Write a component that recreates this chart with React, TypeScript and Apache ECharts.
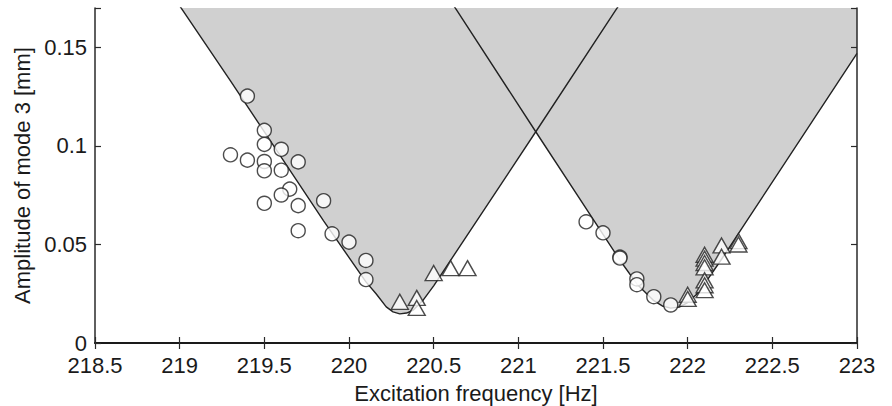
import React, { useEffect, useRef } from "react";
import * as echarts from "echarts";

// Left stability boundary (curve 1): frequency [Hz], amplitude [mm]
const CURVE1_F = [218.93, 219.3, 219.85, 220.1, 220.16, 220.22, 220.26, 220.3, 220.34, 220.38, 220.44, 220.5, 221.103, 221.576, 221.66];
const CURVE1_A = [0.18, 0.133, 0.062, 0.031, 0.025, 0.0183, 0.0158, 0.0148, 0.0152, 0.0167, 0.022, 0.029, 0.1072, 0.169, 0.18];

// Right stability boundary (curve 2)
const CURVE2_F = [220.55, 220.635, 221.103, 221.42, 221.6, 221.7, 221.8, 221.85, 221.9, 221.95, 222.0, 222.05, 222.1, 222.2, 222.35, 223.0];
const CURVE2_A = [0.18, 0.169, 0.1072, 0.0657, 0.042, 0.03, 0.0215, 0.0188, 0.0177, 0.0182, 0.0205, 0.0245, 0.03, 0.0425, 0.0621, 0.147];

// Crossing frequency of the two curves
const CROSS_F = 221.103;

// Measured points: circles
const CIRCLE_F = [219.4, 219.5, 219.5, 219.3, 219.4, 219.6, 219.5, 219.5, 219.6, 219.7, 219.65, 219.6, 219.5, 219.7, 219.85, 219.7, 219.9, 220.0, 220.1, 220.1, 221.4, 221.5, 221.6, 221.6, 221.7, 221.7, 221.8, 221.9];
const CIRCLE_A = [0.1253, 0.1079, 0.1008, 0.0955, 0.0928, 0.0983, 0.0921, 0.0874, 0.0877, 0.0919, 0.0781, 0.0751, 0.0709, 0.0697, 0.0722, 0.057, 0.0554, 0.0512, 0.0419, 0.0322, 0.0615, 0.0559, 0.0436, 0.0431, 0.0325, 0.0296, 0.0235, 0.0193];

// Measured points: triangles
const TRI_F = [220.3, 220.4, 220.4, 220.5, 220.6, 220.7, 222.0, 222.0, 222.1, 222.1, 222.1, 222.1, 222.1, 222.1, 222.1, 222.2, 222.2, 222.3, 222.3];
const TRI_A = [0.0209, 0.0229, 0.0178, 0.0355, 0.038, 0.038, 0.0245, 0.0224, 0.0448, 0.0428, 0.0406, 0.0384, 0.0318, 0.0293, 0.0268, 0.0495, 0.0438, 0.0517, 0.0500];

const X_MIN = 218.5;
const X_MAX = 223;
const X_STEP = 0.5;
const Y_MIN = 0;
const Y_MAX = 0.17;
const Y_STEP = 0.05;

const FONT = "'Liberation Sans', Arial, Helvetica, sans-serif";

export default function App() {
  const ref = useRef<HTMLDivElement>(null);

  useEffect(() => {
    if (!ref.current) return;
    const chart = echarts.init(ref.current, undefined, { renderer: "svg" });

    const c1 = CURVE1_F.map((f, i) => [f, CURVE1_A[i]]);
    const c2 = CURVE2_F.map((f, i) => [f, CURVE2_A[i]]);
    const envelope = [
      ...c1.filter((p) => p[0] <= CROSS_F),
      ...c2.filter((p) => p[0] > CROSS_F),
    ];
    const circles = CIRCLE_F.map((f, i) => [f, CIRCLE_A[i]]);
    const tris = TRI_F.map((f, i) => [f, TRI_A[i]]);

    const onStep = (v: number, step: number) => Math.abs(v / step - Math.round(v / step)) < 1e-6;

    const axisLine = { show: true, lineStyle: { color: "#2a2a2a", width: 1.5 } };
    const tickStyle = { lineStyle: { color: "#2a2a2a", width: 1.2 } };
    const labelStyle = { color: "#1a1a1a", fontSize: 22, fontFamily: FONT };

    chart.setOption({
      animation: false,
      backgroundColor: "#ffffff",
      grid: { left: 95, right: 35, top: 8, bottom: 63, containLabel: false, outerBoundsMode: "none" },
      xAxis: [
        {
          type: "value",
          min: X_MIN,
          max: X_MAX,
          interval: X_STEP,
          position: "bottom",
          z: 10,
          axisLine,
          axisTick: { show: true, inside: true, length: 6, ...tickStyle },
          splitLine: { show: false },
          axisLabel: {
            ...labelStyle,
            lineHeight: 19,
            margin: 13,
            formatter: (v: number) => (onStep(v, X_STEP) ? String(+v.toFixed(2)) : ""),
          },
          name: "Excitation frequency [Hz]",
          nameLocation: "middle",
          nameGap: 39,
          nameTextStyle: { ...labelStyle },
        },
        {
          type: "value",
          min: X_MIN,
          max: X_MAX,
          interval: X_STEP,
          position: "top",
          z: 10,
          axisLine: { show: true, lineStyle: { color: "#1a1a1a", width: 2 } },
          axisTick: { show: true, inside: true, length: 6, ...tickStyle },
          splitLine: { show: false },
          axisLabel: { show: false },
        },
      ],
      yAxis: [
        {
          type: "value",
          min: Y_MIN,
          max: Y_MAX,
          interval: Y_STEP,
          position: "left",
          z: 10,
          axisLine,
          axisTick: { show: true, inside: true, length: 6, ...tickStyle },
          splitLine: { show: false },
          axisLabel: {
            ...labelStyle,
            lineHeight: 19,
            margin: 8,
            formatter: (v: number) => (onStep(v, Y_STEP) ? String(+v.toFixed(2)) : ""),
          },
          name: "Amplitude of mode 3 [mm]",
          nameLocation: "middle",
          nameGap: 60,
          nameRotate: 90,
          nameTextStyle: { ...labelStyle },
        },
        {
          type: "value",
          min: Y_MIN,
          max: Y_MAX,
          interval: Y_STEP,
          position: "right",
          z: 10,
          axisLine,
          axisTick: { show: true, inside: true, length: 6, ...tickStyle },
          splitLine: { show: false },
          axisLabel: { show: false },
        },
      ],
      series: [
        {
          type: "line",
          data: envelope,
          showSymbol: false,
          symbol: "none",
          clip: true,
          lineStyle: { width: 0, opacity: 0 },
          areaStyle: { color: "#d0d0d0", opacity: 1, origin: "end" },
          z: 1,
          silent: true,
        },
        {
          type: "line",
          data: c1,
          symbol: "none",
          clip: true,
          lineStyle: { color: "#222222", width: 1.4 },
          z: 2,
          silent: true,
        },
        {
          type: "line",
          data: c2,
          symbol: "none",
          clip: true,
          lineStyle: { color: "#222222", width: 1.4 },
          z: 2,
          silent: true,
        },
        {
          type: "scatter",
          data: circles,
          symbol: "circle",
          symbolSize: 14,
          itemStyle: { color: "#ffffff", borderColor: "#1f1f1f", borderWidth: 1.4 },
          z: 3,
        },
        {
          type: "scatter",
          data: tris,
          symbol: "triangle",
          symbolSize: [17, 15],
          itemStyle: { color: "#ffffff", borderColor: "#1f1f1f", borderWidth: 1.4 },
          z: 3,
        },
      ],
    });

    return () => chart.dispose();
  }, []);

  return (
    <div
      ref={ref}
      style={{ position: "fixed", left: 0, top: 0, width: 892, height: 406, background: "#fff" }}
    />
  );
}
